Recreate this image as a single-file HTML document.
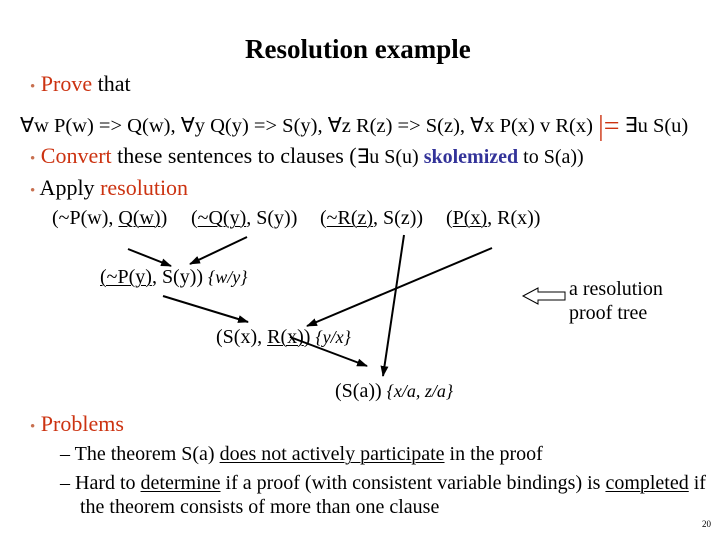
<!DOCTYPE html>
<html><head><meta charset="utf-8"><style>
body{margin:0;width:720px;height:540px;background:#fff;position:relative;overflow:hidden;font-family:"Liberation Serif",serif;color:#000}
.t{position:absolute;white-space:nowrap;line-height:1}
.r{color:#cc3311}
.b{color:#c87050}
u{text-decoration-thickness:1px;text-underline-offset:2px}
i{font-size:18px}
</style></head><body>
<div class="t" style="left:245px;top:36px;font-size:27px;font-weight:bold">Resolution example</div>
<div class="t" style="left:30px;top:73px;font-size:22px"><span class="b" style="font-size:15px">•</span> <span class="r">Prove</span> that</div>
<div class="t" style="left:20px;top:113px;font-size:20.5px">∀w P(w) =&gt; Q(w), ∀y Q(y) =&gt; S(y), ∀z R(z) =&gt; S(z), ∀x P(x) v R(x) <span style="color:#cc3311;font-size:28px;vertical-align:-3px">|=</span> ∃u S(u)</div>
<div class="t" style="left:30px;top:145px;font-size:22px"><span class="b" style="font-size:15px">•</span> <span class="r">Convert</span> these sentences to clauses (<span style="font-size:20px">∃u S(u) <b style="color:#333399">skolemized</b> to S(a))</span></div>
<div class="t" style="left:30px;top:177px;font-size:22px"><span class="b" style="font-size:15px">•</span> Apply <span class="r">resolution</span></div>
<div class="t" style="left:52px;top:208px;font-size:20px">(~P(w), <u>Q(w)</u>)</div>
<div class="t" style="left:191px;top:208px;font-size:20px">(<u>~Q(y)</u>, S(y))</div>
<div class="t" style="left:320px;top:208px;font-size:20px">(<u>~R(z)</u>, S(z))</div>
<div class="t" style="left:446px;top:208px;font-size:20px">(<u>P(x)</u>, R(x))</div>
<div class="t" style="left:100px;top:267px;font-size:20px"><u>(~P(y)</u>, S(y)) <i>{w/y}</i></div>
<div class="t" style="left:216px;top:327px;font-size:20px">(S(x), <u>R(x)</u>) <i>{y/x}</i></div>
<div class="t" style="left:335px;top:381px;font-size:20px">(S(a)) <i>{x/a, z/a}</i></div>
<div class="t" style="left:569px;top:277px;font-size:20px;line-height:24px">a resolution<br>proof tree</div>
<svg style="position:absolute;left:0;top:0" width="720" height="540">
<defs><marker id="a" markerWidth="11" markerHeight="8" refX="10" refY="4" orient="auto" markerUnits="userSpaceOnUse"><path d="M0,0L11,4L0,8z"/></marker></defs>
<g stroke="#000" stroke-width="2" marker-end="url(#a)">
<line x1="128" y1="249" x2="171" y2="266"/>
<line x1="247" y1="237" x2="190" y2="264"/>
<line x1="404" y1="235" x2="383" y2="376"/>
<line x1="492" y1="248" x2="307" y2="326"/>
<line x1="163" y1="296" x2="248" y2="322"/>
<line x1="290" y1="337" x2="367" y2="366"/>
</g>
<path d="M523,296L538,288L538,292L565,292L565,300L538,300L538,304Z" fill="#fff" stroke="#000" stroke-width="1"/>
</svg>
<div class="t" style="left:30px;top:413px;font-size:22px"><span class="b" style="font-size:15px">•</span> <span class="r">Problems</span></div>
<div class="t" style="left:60px;top:444px;font-size:20px">– The theorem S(a) <u>does not actively participate</u> in the proof</div>
<div class="t" style="left:60px;top:473px;font-size:20px">– Hard to <u>determine</u> if a proof (with consistent variable bindings) is <u>completed</u> if</div>
<div class="t" style="left:80px;top:497px;font-size:20px">the theorem consists of more than one clause</div>
<div class="t" style="left:702px;top:520px;font-size:9px">20</div>
</body></html>
